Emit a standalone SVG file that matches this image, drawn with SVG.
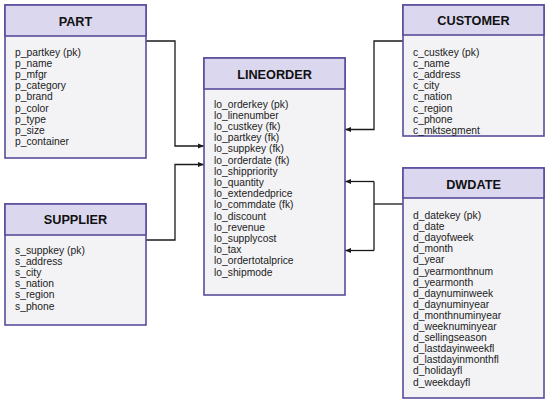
<svg xmlns="http://www.w3.org/2000/svg" width="550" height="404" viewBox="0 0 550 404">
<defs>
<style>
.body{fill:#f3f3f5;stroke:#574d9c;stroke-width:1.6}
.head{fill:#dbd7ef;stroke:#574d9c;stroke-width:1.6}
.title{font-family:"Liberation Sans",Arial,sans-serif;font-weight:bold;font-size:12.7px;fill:#111;text-anchor:middle}
.f{font-family:"Liberation Sans",Arial,sans-serif;font-size:10.3px;fill:#222}
.c{fill:none;stroke:#1a1a1a;stroke-width:1.3}
</style>
<marker id="ah" viewBox="0 0 10 10" refX="10" refY="5" markerWidth="6" markerHeight="6" markerUnits="userSpaceOnUse" orient="auto">
<path d="M0,1 L10,5 L0,9 z" fill="#1a1a1a"/>
</marker>
</defs>
<rect width="550" height="404" fill="#ffffff"/>
<g id="connectors">
<path class="c" d="M146,41 H175 V146 H204" marker-end="url(#ah)"/>
<path class="c" d="M146,240 H175 V164.5 H204" marker-end="url(#ah)"/>
<path class="c" d="M403,41 H374 V129.5 H345" marker-end="url(#ah)"/>
<path class="c" d="M403,204 H374"/>
<path class="c" d="M374,181.5 V250.5"/>
<path class="c" d="M374,181.5 H345" marker-end="url(#ah)"/>
<path class="c" d="M374,250.5 H345" marker-end="url(#ah)"/>
</g>
<g id="part">
<rect class="body" x="5" y="5" width="141" height="153"/>
<rect class="head" x="5" y="5" width="141" height="31"/>
<text class="title" x="75.5" y="25.5">PART</text>
<text class="f" x="15" y="55.5">p_partkey (pk)</text>
<text class="f" x="15" y="66.7">p_name</text>
<text class="f" x="15" y="77.9">p_mfgr</text>
<text class="f" x="15" y="89.1">p_category</text>
<text class="f" x="15" y="100.3">p_brand</text>
<text class="f" x="15" y="111.5">p_color</text>
<text class="f" x="15" y="122.7">p_type</text>
<text class="f" x="15" y="133.9">p_size</text>
<text class="f" x="15" y="145.1">p_container</text>
</g>
<g id="supplier">
<rect class="body" x="5" y="204" width="141" height="121"/>
<rect class="head" x="5" y="204" width="141" height="31"/>
<text class="title" x="75.5" y="223.5">SUPPLIER</text>
<text class="f" x="15" y="253.5">s_suppkey (pk)</text>
<text class="f" x="15" y="264.7">s_address</text>
<text class="f" x="15" y="275.9">s_city</text>
<text class="f" x="15" y="287.1">s_nation</text>
<text class="f" x="15" y="298.3">s_region</text>
<text class="f" x="15" y="309.5">s_phone</text>
</g>
<g id="lineorder">
<rect class="body" x="204" y="58" width="141" height="237"/>
<rect class="head" x="204" y="58" width="141" height="31"/>
<text class="title" x="274.5" y="78.5">LINEORDER</text>
<text class="f" x="214" y="107.5">lo_orderkey (pk)</text>
<text class="f" x="214" y="118.7">lo_linenumber</text>
<text class="f" x="214" y="129.9">lo_custkey (fk)</text>
<text class="f" x="214" y="141.1">lo_partkey (fk)</text>
<text class="f" x="214" y="152.3">lo_suppkey (fk)</text>
<text class="f" x="214" y="163.5">lo_orderdate (fk)</text>
<text class="f" x="214" y="174.7">lo_shippriority</text>
<text class="f" x="214" y="185.9">lo_quantity</text>
<text class="f" x="214" y="197.1">lo_extendedprice</text>
<text class="f" x="214" y="208.3">lo_commdate (fk)</text>
<text class="f" x="214" y="219.5">lo_discount</text>
<text class="f" x="214" y="230.7">lo_revenue</text>
<text class="f" x="214" y="241.9">lo_supplycost</text>
<text class="f" x="214" y="253.1">lo_tax</text>
<text class="f" x="214" y="264.3">lo_ordertotalprice</text>
<text class="f" x="214" y="275.5">lo_shipmode</text>
</g>
<g id="customer">
<rect class="body" x="403" y="5" width="141" height="131"/>
<rect class="head" x="403" y="5" width="141" height="30"/>
<text class="title" x="473.5" y="25.2">CUSTOMER</text>
<text class="f" x="413" y="55.5">c_custkey (pk)</text>
<text class="f" x="413" y="66.7">c_name</text>
<text class="f" x="413" y="77.9">c_address</text>
<text class="f" x="413" y="89.1">c_city</text>
<text class="f" x="413" y="100.3">c_nation</text>
<text class="f" x="413" y="111.5">c_region</text>
<text class="f" x="413" y="122.7">c_phone</text>
<text class="f" x="413" y="133.9">c_mktsegment</text>
</g>
<g id="dwdate">
<rect class="body" x="403" y="168" width="141" height="230"/>
<rect class="head" x="403" y="168" width="141" height="30"/>
<text class="title" x="473.5" y="188.5">DWDATE</text>
<text class="f" x="413" y="219">d_datekey (pk)</text>
<text class="f" x="413" y="230.1">d_date</text>
<text class="f" x="413" y="241.2">d_dayofweek</text>
<text class="f" x="413" y="252.3">d_month</text>
<text class="f" x="413" y="263.4">d_year</text>
<text class="f" x="413" y="274.5">d_yearmonthnum</text>
<text class="f" x="413" y="285.6">d_yearmonth</text>
<text class="f" x="413" y="296.7">d_daynuminweek</text>
<text class="f" x="413" y="307.8">d_daynuminyear</text>
<text class="f" x="413" y="318.9">d_monthnuminyear</text>
<text class="f" x="413" y="330">d_weeknuminyear</text>
<text class="f" x="413" y="341.1">d_sellingseason</text>
<text class="f" x="413" y="352.2">d_lastdayinweekfl</text>
<text class="f" x="413" y="363.3">d_lastdayinmonthfl</text>
<text class="f" x="413" y="374.4">d_holidayfl</text>
<text class="f" x="413" y="385.5">d_weekdayfl</text>
</g>
</svg>
